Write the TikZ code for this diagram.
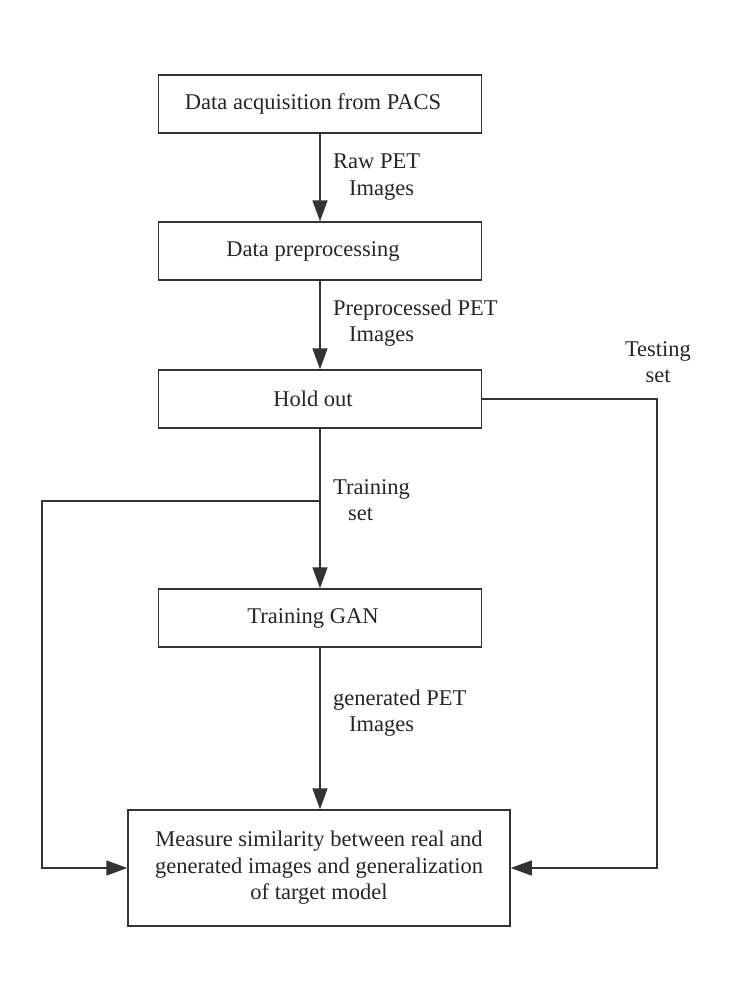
\documentclass[tikz,border=0pt]{standalone}
\usepackage{fontspec}
\setmainfont{Liberation Serif}
\usetikzlibrary{arrows.meta}
\definecolor{ln}{HTML}{333333}
\definecolor{tx}{HTML}{262626}
\tikzset{
  box/.style={draw=ln, line width=1.5pt, minimum width=323pt, minimum height=58pt, inner sep=0pt, text=tx,
    font=\fontsize{22.5}{26.5}\selectfont, align=center},
  lab/.style={inner sep=0pt, text=tx, font=\fontsize{22.5}{26.5}\selectfont},
  conn/.style={draw=ln, line width=1.5pt},
  arr/.style={conn, -{Triangle[length=21pt,width=15pt]}}
}
\begin{document}
\begin{tikzpicture}[x=1pt,y=-1pt]
\useasboundingbox[fill=white] (0,0) rectangle (733,1001);
\node[box] (b1) at (320,104) {\hspace*{-14pt}Data acquisition from PACS};
\node[box] (b2) at (320,251) {\hspace*{-14pt}Data preprocessing};
\node[box] (b3) at (320,399) {\hspace*{-14pt}Hold out};
\node[box] (b4) at (320,618) {\hspace*{-14pt}Training GAN};
\node[box, minimum width=382pt, minimum height=116pt] (b5) at (319,868)
  {Measure similarity between real and\\ generated images and generalization\\ of target model};
\draw[arr] (b1) -- (b2);
\draw[arr] (b2) -- (b3);
\draw[arr] (b3) -- (b4);
\draw[arr] (b4.south) -- (b4.south |- b5.north);
\coordinate (tb) at (320,501);
\coordinate (lc) at (42,501);
\coordinate (rc) at (657,399);
\draw[arr] (tb) -- (lc) |- (b5.west);
\draw[arr] (b3.east) -- (rc) |- (b5.east);
\node[lab, anchor=west, align=left] (l1) at (333,177) {Raw PET\\\hspace*{16pt}Images};
\node[lab, anchor=west, align=left] (l2) at (333,323) {Preprocessed PET\\\hspace*{16pt}Images};
\node[lab, anchor=west, align=left] (l3) at (333,500) {Training\\\hspace*{15pt}set};
\node[lab, anchor=west, align=left] (l4) at (333,713) {generated PET\\\hspace*{16pt}Images};
\node[lab, align=center] (l5) at (658,362) {Testing\\set};
\end{tikzpicture}
\end{document}
